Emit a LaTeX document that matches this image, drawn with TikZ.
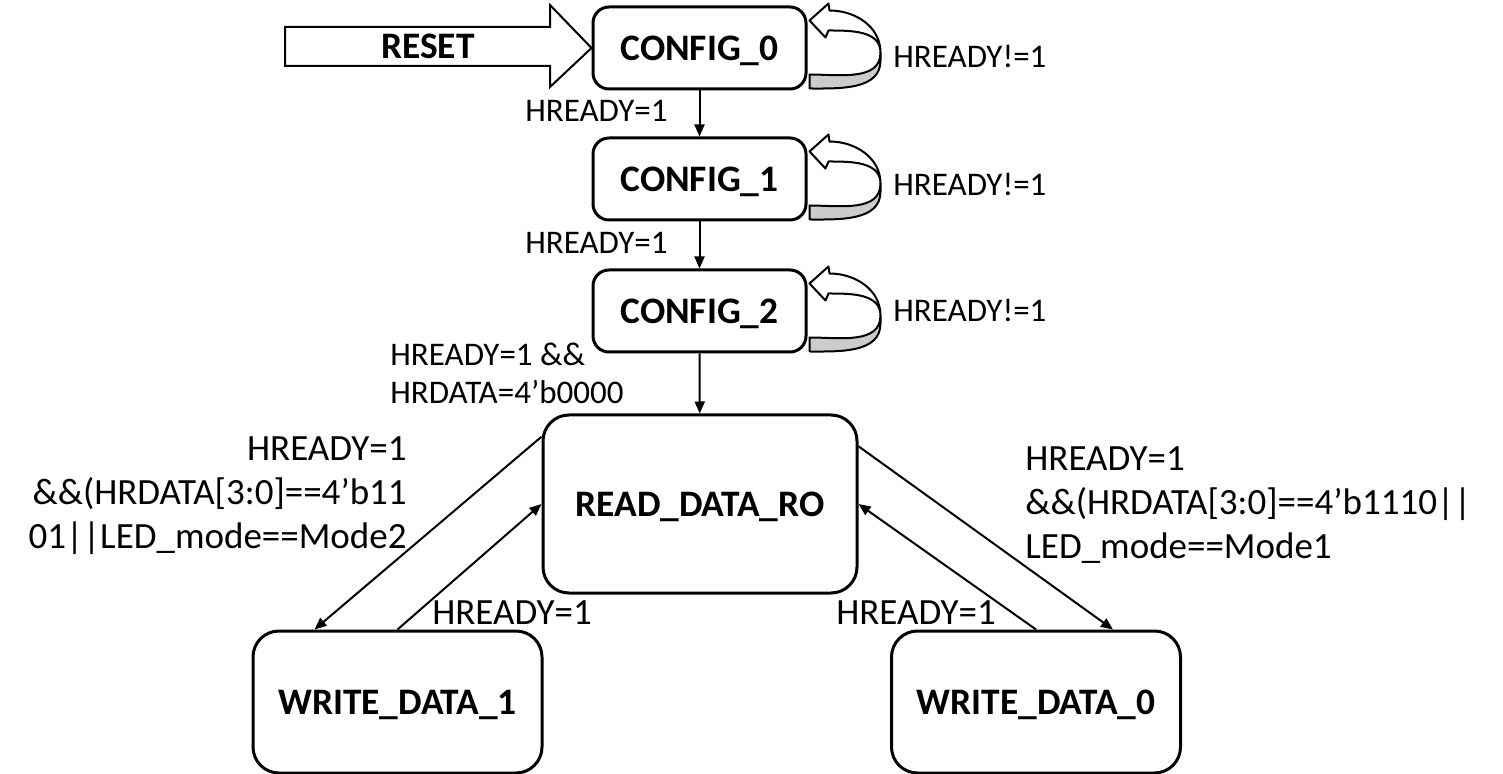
\documentclass[tikz,border=0pt]{standalone}
\usepackage{fontspec}
\setmainfont{Carlito}
\usetikzlibrary{arrows.meta,calc}

\tikzset{
  cfgbox/.style={draw, line width=1.5pt, rounded corners=8pt,
    minimum width=106.5pt, minimum height=41pt, text depth=0pt,
    font=\fontsize{18.7}{22}\selectfont\bfseries},
  bigbox/.style={draw, line width=1.5pt, rounded corners=13pt,
    minimum width=144.5pt, minimum height=71pt, text depth=0pt,
    font=\fontsize{18.7}{22}\selectfont\bfseries},
  arr/.style={->, line width=1pt},
  cond/.style={inner sep=0pt, font=\fontsize{16.5}{19}\selectfont},
  condwide/.style={inner sep=0pt, font=\fontsize{18.5}{22}\selectfont},
  ribbon/.style={draw, line width=1pt, line join=round},
}

\begin{document}
\begin{tikzpicture}[x=0.5pt, y=-0.5pt, >={Triangle[length=6pt,width=5pt]}]
  \useasboundingbox (0,0) rectangle (1503,774);

  % states
  \node[cfgbox] (c0) at (699.5,48) {CONFIG\_0};
  \node[cfgbox] (c1) at (699.5,179) {CONFIG\_1};
  \node[cfgbox] (c2) at (699.5,311) {CONFIG\_2};
  \node[bigbox, minimum width=157pt, minimum height=89pt] (rd) at (700,504) {READ\_DATA\_RO};
  \node[bigbox] (w1) at (397.5,702) {WRITE\_DATA\_1};
  \node[bigbox] (w0) at (1036,702) {WRITE\_DATA\_0};

  % reset arrow
  \draw[line width=1pt, line join=miter] (285,27) -- (550,27) -- (550,5) -- (c0.west)
    -- (550,87) -- (550,66) -- (285,66) -- cycle;
  \node[font=\fontsize{18.7}{22}\selectfont\bfseries, text depth=0pt] (reset) at (428,46) {RESET};

  % self loops
  \foreach \s in {c0,c1,c2} {
    \begin{scope}[shift={(\s.north east)}]
      \filldraw[ribbon, fill=gray!40] (2,69) to[out=0,in=-90] (73,47) -- (73,55)
        to[out=-90,in=0] (2,83) -- cycle;
      \filldraw[ribbon, fill=white] (2,15) -- (21,-2) -- (22,5) to[out=0,in=90] (73,47)
        to[out=90,in=0] (21,25) -- (18,32) -- cycle;
    \end{scope}
  }
  \node[cond, anchor=west] (n0) at (893,56) {HREADY!=1};
  \node[cond, anchor=west] (n1) at (893,184) {HREADY!=1};
  \node[cond, anchor=west] (n2) at (893,310) {HREADY!=1};

  % transitions
  \draw[arr] (c0) -- (c1);
  \draw[arr] (c1) -- (c2);
  \draw[arr] (c2) -- (rd);
  \draw[arr] (rd.157) -- ($(w1.north)+(-83,0)$);
  \draw[arr] (w1.north) -- (rd.west);
  \draw[arr] (rd.20) -- ($(w0.north)+(77,0)$);
  \draw[arr] (w0.north) -- (rd.east);

  % conditions
  \node[cond, anchor=east] (t0) at (668,111) {HREADY=1};
  \node[cond, anchor=east] (t1) at (668,243) {HREADY=1};
  \node[cond, anchor=west, align=left] (t2) at (390,373) {HREADY=1 \&\&\\HRDATA=4’b0000};
  \node[condwide, anchor=east, align=right] (t3) at (407,496)
    {HREADY=1\\\&\&(HRDATA[3:0]==4’b11\\01||LED\_mode==Mode2};
  \node[condwide, anchor=west, align=left] (t4) at (1025,505)
    {HREADY=1\\\&\&(HRDATA[3:0]==4’b1110||\\LED\_mode==Mode1};
  \node[condwide] (t5) at (512,613) {HREADY=1};
  \node[condwide] (t6) at (916,613) {HREADY=1};
\end{tikzpicture}
\end{document}
